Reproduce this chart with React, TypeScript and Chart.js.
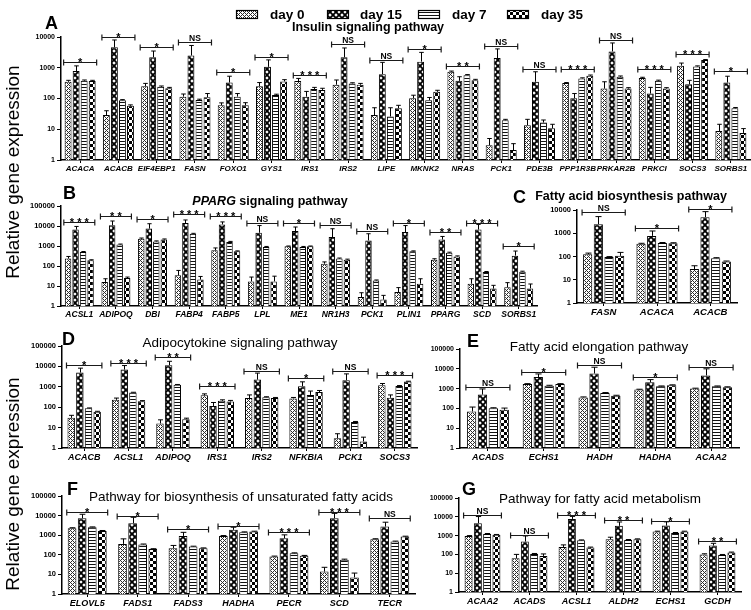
import React, { useEffect, useRef } from 'react';
import { Chart, registerables } from 'chart.js';

Chart.register(...registerables);

const FONT = '"Liberation Sans", Arial, Helvetica, sans-serif';
const W = 751;
const H = 610;

const seriesNames = ['day 0', 'day 15', 'day 7', 'day 35'];
const ticks4 = [1, 10, 100, 1000, 10000];
const ticks5 = [1, 10, 100, 1000, 10000, 100000];

// ---------- Panel A: Insulin signaling pathway ----------
const A_genes = ['ACACA', 'ACACB', 'EIF4EBP1', 'FASN', 'FOXO1', 'GYS1', 'IRS1', 'IRS2', 'LIPE', 'MKNK2', 'NRAS', 'PCK1', 'PDE3B', 'PPP1R3B', 'PRKAR2B', 'PRKCI', 'SOCS3', 'SORBS1'];
const A_day0 = [350, 29, 250, 115, 60, 250, 370, 280, 29, 102, 740, 3, 13.5, 317, 210, 460, 1170, 8.8];
const A_day15 = [780, 4600, 2200, 2500, 330, 1070, 115, 2200, 620, 1580, 375, 2070, 350, 102, 3400, 145, 290, 330];
const A_day7 = [380, 88, 240, 90, 115, 130, 205, 310, 26, 88, 575, 19.6, 16.5, 450, 510, 375, 1100, 48];
const A_day35 = [370, 58, 215, 110, 60, 360, 190, 280, 48, 165, 395, 2.1, 10.8, 550, 210, 210, 1780, 7.6];
const A_err0 = [390, 40, 310, 140, 72, 330, 450, 400, 50, 128, 780, 5, 21, 330, 350, 490, 1420, 14.5];
const A_err15 = [1150, 8000, 3500, 5300, 530, 1800, 170, 4400, 1500, 3160, 510, 4100, 740, 145, 6400, 230, 390, 530];
const A_err7 = [400, 92, 255, 95, 145, 138, 230, 325, 50, 108, 600, 21, 20, 470, 540, 395, 1150, 51];
const A_err35 = [390, 62, 230, 145, 73, 410, 215, 310, 60, 185, 420, 3.4, 14.5, 580, 225, 225, 1850, 10.5];
const A_sig = ['*', '*', '*', 'NS', '*', '*', '***', 'NS', 'NS', '*', '**', 'NS', 'NS', '***', 'NS', '***', '***', '*'];
const A_sigAt = [1540, 10000, 4700, 6900, 730, 2240, 580, 5900, 1780, 4100, 1140, 5100, 910, 910, 7900, 910, 2800, 780];

// ---------- Panel B: PPARG signaling pathway ----------
const B_genes = ['ACSL1', 'ADIPOQ', 'DBI', 'FABP4', 'FABP5', 'LPL', 'ME1', 'NR1H3', 'PCK1', 'PLIN1', 'PPARG', 'SCD', 'SORBS1'];
const B_day0 = [234, 16, 2300, 34, 610, 17, 960, 130, 2.8, 5, 207, 13, 8.6];
const B_day15 = [6600, 10800, 7400, 14000, 12000, 4600, 5600, 2800, 1900, 5000, 2100, 6600, 330];
const B_day7 = [500, 1200, 1700, 4100, 1600, 900, 900, 234, 19, 540, 460, 50, 52];
const B_day35 = [192, 25, 2100, 21, 540, 17, 960, 207, 2.1, 13, 300, 7.4, 7.6];
const B_err0 = [300, 23, 2500, 60, 800, 28, 1000, 160, 4.6, 8.3, 230, 23, 14.7];
const B_err15 = [9500, 17800, 13000, 20000, 16000, 10500, 8900, 7300, 4100, 10500, 3000, 12000, 560];
const B_err7 = [530, 1250, 1800, 4300, 1700, 950, 950, 250, 20, 570, 490, 53, 55];
const B_err35 = [205, 28, 2250, 30, 570, 31, 1000, 220, 3.4, 23, 320, 10.8, 12.6];
const B_sig = ['***', '**', '*', '***', '***', 'NS', '*', 'NS', 'NS', '*', '**', '***', '*'];
const B_sigAt = [15800, 31600, 22400, 39800, 31600, 14100, 14100, 11200, 5600, 14100, 5000, 14100, 1000];

// ---------- Panel C: Fatty acid biosynthesis pathway ----------
const C_genes = ['FASN', 'ACACA', 'ACACB'];
const C_day0 = [126, 350, 29];
const C_day15 = [2450, 770, 4900];
const C_day7 = [94, 385, 85];
const C_day35 = [107, 370, 61];
const C_err0 = [140, 370, 40];
const C_err15 = [5200, 1250, 8500];
const C_err7 = [99, 400, 89];
const C_err35 = [150, 390, 64];
const C_sig = ['NS', '*', '*'];
const C_sigAt = [8300, 1700, 11000];

// ---------- Panel D: Adipocytokine signaling pathway ----------
const D_genes = ['ACACB', 'ACSL1', 'ADIPOQ', 'IRS1', 'IRS2', 'NFKBIA', 'PCK1', 'SOCS3'];
const D_day0 = [30, 230, 16, 380, 280, 270, 3, 1200];
const D_day15 = [5000, 7000, 11500, 115, 2250, 1070, 2100, 290];
const D_day7 = [88, 520, 1250, 205, 310, 400, 19, 1100];
const D_day35 = [60, 195, 26, 190, 285, 550, 2.1, 1800];
const D_err0 = [40, 280, 24, 450, 400, 300, 5, 1450];
const D_err15 = [8200, 11000, 17800, 170, 4700, 1750, 4300, 400];
const D_err7 = [92, 540, 1300, 230, 325, 620, 20, 1150];
const D_err35 = [63, 210, 29, 215, 300, 660, 3.4, 1880];
const D_sig = ['*', '***', '**', '***', 'NS', '*', 'NS', '***'];
const D_sigAt = [11700, 14700, 29000, 1100, 5900, 2700, 5900, 3800];

// ---------- Panel E: Fatty acid elongation pathway ----------
const E_genes = ['ACADS', 'ECHS1', 'HADH', 'HADHA', 'ACAA2'];
const E_day0 = [70, 1700, 360, 890, 1000];
const E_day15 = [500, 3800, 5800, 2100, 4600];
const E_day7 = [102, 1400, 600, 1300, 1300];
const E_day35 = [85, 1700, 440, 1480, 1170];
const E_err0 = [117, 1780, 380, 930, 1050];
const E_err15 = [960, 5500, 12000, 2850, 10000];
const E_err7 = [108, 1470, 630, 1360, 1360];
const E_err35 = [104, 1780, 460, 1550, 1230];
const E_sig = ['NS', '*', 'NS', '*', 'NS'];
const E_sigAt = [1200, 6900, 15500, 3850, 12300];

// ---------- Panel F: Biosynthesis of unsaturated fatty acids ----------
const F_genes = ['ELOVL5', 'FADS1', 'FADS3', 'HADHA', 'PECR', 'SCD', 'TECR'];
const F_day0 = [2270, 360, 218, 920, 82, 14, 630];
const F_day15 = [7300, 4060, 920, 1870, 700, 7300, 2750];
const F_day7 = [2540, 340, 265, 1420, 120, 56, 480];
const F_day35 = [1660, 195, 215, 1530, 89, 7, 850];
const F_err0 = [2400, 650, 300, 960, 86, 23, 660];
const F_err15 = [11700, 8200, 1400, 2550, 1040, 13000, 4600];
const F_err7 = [2650, 355, 275, 1480, 126, 60, 500];
const F_err35 = [1740, 205, 225, 1600, 93, 11.7, 890];
const F_sig = ['*', '*', '*', '*', '***', '***', 'NS'];
const F_sigAt = [15200, 9500, 2080, 2950, 1450, 15200, 7500];

// ---------- Panel G: Fatty acid metabolism ----------
const G_genes = ['ACAA2', 'ACADS', 'ACSL1', 'ALDH2', 'ECHS1', 'GCDH'];
const G_day0 = [960, 62, 250, 640, 1640, 100];
const G_day15 = [4570, 480, 7700, 3300, 3400, 295];
const G_day7 = [1230, 106, 560, 590, 1390, 94];
const G_day35 = [1100, 83, 230, 640, 1640, 125];
const G_err0 = [1000, 100, 320, 820, 1720, 108];
const G_err15 = [10300, 960, 10500, 5300, 5400, 390];
const G_err7 = [1290, 112, 590, 620, 1460, 99];
const G_err35 = [1150, 106, 245, 670, 1720, 133];
const G_sig = ['NS', 'NS', '***', '**', '*', '**'];
const G_sigAt = [12500, 1080, 13000, 6500, 6000, 515];

type PanelCfg = {
  letter: string;
  letterX: number;
  letterY: number;
  titleItalic: string;
  title: string;
  titleWeight: string;
  titleSize: number;
  titleX: number;
  titleY: number;
  cats: string[];
  vals: number[][];
  errs: number[][];
  sig: string[];
  sigAt: number[];
  ticks: number[];
  area: [number, number, number, number];
  xFont: number;
  yFont: number;
  catPct: number;
};

const PANELS: PanelCfg[] = [
  {
    letter: 'A', letterX: 45, letterY: 24, titleItalic: '', title: 'Insulin signaling pathway', titleWeight: 'bold', titleSize: 12.5, titleX: 368, titleY: 28,
    cats: A_genes, vals: [A_day0, A_day15, A_day7, A_day35], errs: [A_err0, A_err15, A_err7, A_err35], sig: A_sig, sigAt: A_sigAt,
    ticks: ticks4, area: [61, 37, 750, 160], xFont: 8, yFont: 7, catPct: 0.84,
  },
  {
    letter: 'B', letterX: 63, letterY: 194, titleItalic: 'PPARG', title: ' signaling pathway', titleWeight: 'bold', titleSize: 12.5, titleX: 270, titleY: 202,
    cats: B_genes, vals: [B_day0, B_day15, B_day7, B_day35], errs: [B_err0, B_err15, B_err7, B_err35], sig: B_sig, sigAt: B_sigAt,
    ticks: ticks5, area: [61, 206, 537, 306], xFont: 8.5, yFont: 7.5, catPct: 0.82,
  },
  {
    letter: 'C', letterX: 513, letterY: 198, titleItalic: '', title: 'Fatty acid biosynthesis pathway', titleWeight: 'bold', titleSize: 12.5, titleX: 631, titleY: 197,
    cats: C_genes, vals: [C_day0, C_day15, C_day7, C_day35], errs: [C_err0, C_err15, C_err7, C_err35], sig: C_sig, sigAt: C_sigAt,
    ticks: ticks4, area: [577, 210, 737, 303], xFont: 9.5, yFont: 7.5, catPct: 0.8,
  },
  {
    letter: 'D', letterX: 62, letterY: 340, titleItalic: '', title: 'Adipocytokine signaling pathway', titleWeight: 'normal', titleSize: 13.5, titleX: 240, titleY: 343,
    cats: D_genes, vals: [D_day0, D_day15, D_day7, D_day35], errs: [D_err0, D_err15, D_err7, D_err35], sig: D_sig, sigAt: D_sigAt,
    ticks: ticks5, area: [62, 346, 417, 448], xFont: 9, yFont: 7.5, catPct: 0.78,
  },
  {
    letter: 'E', letterX: 467, letterY: 342, titleItalic: '', title: 'Fatty acid elongation pathway', titleWeight: 'normal', titleSize: 13.5, titleX: 599, titleY: 347,
    cats: E_genes, vals: [E_day0, E_day15, E_day7, E_day35], errs: [E_err0, E_err15, E_err7, E_err35], sig: E_sig, sigAt: E_sigAt,
    ticks: ticks5, area: [460, 349, 739, 448], xFont: 9, yFont: 7, catPct: 0.78,
  },
  {
    letter: 'F', letterX: 67, letterY: 490, titleItalic: '', title: 'Pathway for biosynthesis of unsaturated fatty acids', titleWeight: 'normal', titleSize: 13.5, titleX: 241, titleY: 497,
    cats: F_genes, vals: [F_day0, F_day15, F_day7, F_day35], errs: [F_err0, F_err15, F_err7, F_err35], sig: F_sig, sigAt: F_sigAt,
    ticks: ticks5, area: [62, 496, 415, 594], xFont: 9, yFont: 7.5, catPct: 0.8,
  },
  {
    letter: 'G', letterX: 462, letterY: 490, titleItalic: '', title: 'Pathway for fatty acid metabolism', titleWeight: 'normal', titleSize: 13.5, titleX: 600, titleY: 499,
    cats: G_genes, vals: [G_day0, G_day15, G_day7, G_day35], errs: [G_err0, G_err15, G_err7, G_err35], sig: G_sig, sigAt: G_sigAt,
    ticks: ticks5, area: [459, 498, 741, 592], xFont: 9, yFont: 7, catPct: 0.79,
  },
];

const Y_TITLE = 'Relative gene expression';
const yTitleCenters = [172, 484];
const legendSwatchX = [236, 327, 418, 507];
const legendTextX = [270, 360, 452, 541];

function makePatterns(ctx: CanvasRenderingContext2D): CanvasPattern[] {
  const mk = (w: number, h: number, draw: (g: CanvasRenderingContext2D) => void) => {
    const c = document.createElement('canvas');
    c.width = w;
    c.height = h;
    const g = c.getContext('2d')!;
    g.fillStyle = '#fff';
    g.fillRect(0, 0, w, h);
    draw(g);
    return ctx.createPattern(c, 'repeat')!;
  };
  const p0 = mk(4, 4, (g) => {
    g.fillStyle = '#2a2a2a';
    for (let x = 0; x < 4; x++) for (let y = 0; y < 4; y++) {
      if ((x + y) % 4 === 0 || (x - y + 4) % 4 === 0) g.fillRect(x, y, 1, 1);
    }
  });
  const p15 = mk(6, 6, (g) => {
    g.strokeStyle = '#000';
    g.lineWidth = 1.9;
    g.beginPath();
    g.moveTo(-1, -1); g.lineTo(7, 7);
    g.moveTo(7, -1); g.lineTo(-1, 7);
    g.stroke();
  });
  const p7 = mk(2, 3, (g) => {
    g.fillStyle = '#111';
    g.fillRect(0, 0, 2, 1);
  });
  const p35 = mk(6, 6, (g) => {
    g.fillStyle = '#000';
    g.fillRect(0, 0, 3, 3);
    g.fillRect(3, 3, 3, 3);
  });
  return [p0, p15, p7, p35];
}

function drawTitle(ctx: CanvasRenderingContext2D, p: PanelCfg) {
  ctx.fillStyle = '#000';
  ctx.textBaseline = 'middle';
  ctx.textAlign = 'left';
  const fItal = `italic ${p.titleWeight} ${p.titleSize}px ${FONT}`;
  const fNorm = `${p.titleWeight} ${p.titleSize}px ${FONT}`;
  ctx.font = fItal;
  const w1 = p.titleItalic ? ctx.measureText(p.titleItalic).width : 0;
  ctx.font = fNorm;
  const w2 = ctx.measureText(p.title).width;
  let x = p.titleX - (w1 + w2) / 2;
  if (p.titleItalic) {
    ctx.font = fItal;
    ctx.fillText(p.titleItalic, x, p.titleY);
    x += w1;
  }
  ctx.font = fNorm;
  ctx.fillText(p.title, x, p.titleY);

  ctx.font = `bold 18px ${FONT}`;
  ctx.fillText(p.letter, p.letterX, p.letterY);
}

function drawGlobal(ctx: CanvasRenderingContext2D, patterns: CanvasPattern[]) {
  ctx.save();
  seriesNames.forEach((name, k) => {
    const x = legendSwatchX[k];
    ctx.fillStyle = patterns[k];
    ctx.fillRect(x, 10, 22, 9);
    ctx.strokeStyle = '#000';
    ctx.lineWidth = 1.2;
    ctx.strokeRect(x + 0.5, 10.5, 21, 8);
    ctx.fillStyle = '#000';
    ctx.font = `bold 13.5px ${FONT}`;
    ctx.textBaseline = 'middle';
    ctx.textAlign = 'left';
    ctx.fillText(name, legendTextX[k], 15);
  });
  ctx.font = `19px ${FONT}`;
  ctx.textAlign = 'center';
  ctx.textBaseline = 'middle';
  yTitleCenters.forEach((cy) => {
    ctx.save();
    ctx.translate(14, cy);
    ctx.rotate(-Math.PI / 2);
    ctx.fillText(Y_TITLE, 0, 0);
    ctx.restore();
  });
  ctx.restore();
}

function decorPlugin(p: PanelCfg, patterns: CanvasPattern[], global: boolean) {
  return {
    id: 'decor' + p.letter,
    afterDatasetsDraw(chart: any) {
      const ctx: CanvasRenderingContext2D = chart.ctx;
      const ys = chart.scales.y;
      ctx.save();
      ctx.strokeStyle = '#000';
      ctx.lineWidth = 1;
      p.errs.forEach((row, di) => {
        const meta = chart.getDatasetMeta(di);
        meta.data.forEach((el: any, i: number) => {
          const yTop = ys.getPixelForValue(row[i]);
          const yBar = el.y;
          if (yTop < yBar - 0.3) {
            const cap = Math.max(2, el.width * 0.33);
            const x = Math.round(el.x) + 0.5;
            ctx.beginPath();
            ctx.moveTo(x, yBar);
            ctx.lineTo(x, yTop);
            ctx.moveTo(x - cap, yTop);
            ctx.lineTo(x + cap, yTop);
            ctx.stroke();
          }
        });
      });
      const m0 = chart.getDatasetMeta(0);
      const m3 = chart.getDatasetMeta(3);
      p.sig.forEach((s, i) => {
        const a = m0.data[i];
        const b = m3.data[i];
        const x1 = a.x - a.width / 2 - 1;
        const x2 = b.x + b.width / 2 + 1;
        const yy = Math.round(ys.getPixelForValue(p.sigAt[i])) + 0.5;
        ctx.strokeStyle = '#1a1a1a';
        ctx.lineWidth = 1.2;
        ctx.beginPath();
        ctx.moveTo(x1, yy);
        ctx.lineTo(x2, yy);
        ctx.moveTo(x1, yy - 3);
        ctx.lineTo(x1, yy + 3);
        ctx.moveTo(x2, yy - 3);
        ctx.lineTo(x2, yy + 3);
        ctx.stroke();
        ctx.fillStyle = '#000';
        ctx.textAlign = 'center';
        ctx.textBaseline = 'alphabetic';
        if (s === 'NS') {
          ctx.font = `bold 8.5px ${FONT}`;
          ctx.fillText('NS', (x1 + x2) / 2, yy - 2);
        } else {
          ctx.font = `bold 11px ${FONT}`;
          ctx.fillText(s.split('').join(' '), (x1 + x2) / 2, yy + 3.5);
        }
      });
      ctx.restore();
    },
    afterDraw(chart: any) {
      const ctx: CanvasRenderingContext2D = chart.ctx;
      ctx.save();
      drawTitle(ctx, p);
      ctx.restore();
      if (global) drawGlobal(ctx, patterns);
    },
  };
}

function makeChart(canvas: HTMLCanvasElement, p: PanelCfg, global: boolean) {
  const ctx = canvas.getContext('2d')!;
  const patterns = makePatterns(ctx);
  const [l, t, r, b] = p.area;
  const Y_W = 40;
  const X_H = 16;
  return new Chart(canvas, {
    type: 'bar',
    data: {
      labels: p.cats,
      datasets: seriesNames.map((name, k) => ({
        label: name,
        data: p.vals[k],
        backgroundColor: patterns[k],
        borderColor: '#000',
        borderWidth: 1,
        categoryPercentage: p.catPct,
        barPercentage: 0.86,
      })),
    },
    options: {
      responsive: false,
      animation: false,
      devicePixelRatio: 1,
      layout: { padding: { left: l - Y_W, top: t, right: W - r, bottom: H - b - X_H } },
      plugins: { legend: { display: false }, title: { display: false }, tooltip: { enabled: false } },
      scales: {
        x: {
          grid: { display: true, drawOnChartArea: false, offset: false, tickLength: 3, color: '#000', lineWidth: 1 },
          border: { display: true, color: '#000', width: 1.5 },
          ticks: { color: '#000', font: { size: p.xFont, weight: 'bold', style: 'italic', family: FONT }, padding: 1, maxRotation: 0, autoSkip: false },
          afterFit: (axis: any) => { axis.height = X_H; },
        },
        y: {
          type: 'logarithmic',
          min: 1,
          max: p.ticks[p.ticks.length - 1],
          grid: { display: true, drawOnChartArea: false, tickLength: 4, color: '#000', lineWidth: 1 },
          border: { display: true, color: '#000', width: 1.5 },
          ticks: { color: '#000', font: { size: p.yFont, weight: 'bold', family: FONT }, padding: 2, callback: (v: any) => String(v) },
          afterBuildTicks: (axis: any) => { axis.ticks = p.ticks.map((v) => ({ value: v })); },
          afterFit: (axis: any) => { axis.width = Y_W; },
        },
      },
    } as any,
    plugins: [decorPlugin(p, patterns, global)],
  });
}

export default function App() {
  const refs = useRef<(HTMLCanvasElement | null)[]>([]);
  useEffect(() => {
    document.body.style.margin = '0';
    Chart.defaults.font.family = FONT;
    const charts = PANELS.map((p, i) => makeChart(refs.current[i]!, p, i === 0));
    return () => charts.forEach((c) => c.destroy());
  }, []);
  return (
    <div style={{ position: 'relative', width: W, height: H, background: '#fff', overflow: 'hidden' }}>
      {PANELS.map((p, i) => (
        <canvas
          key={p.letter}
          ref={(el) => { refs.current[i] = el; }}
          width={W}
          height={H}
          style={{ position: 'absolute', left: 0, top: 0, width: W, height: H }}
        />
      ))}
    </div>
  );
}
